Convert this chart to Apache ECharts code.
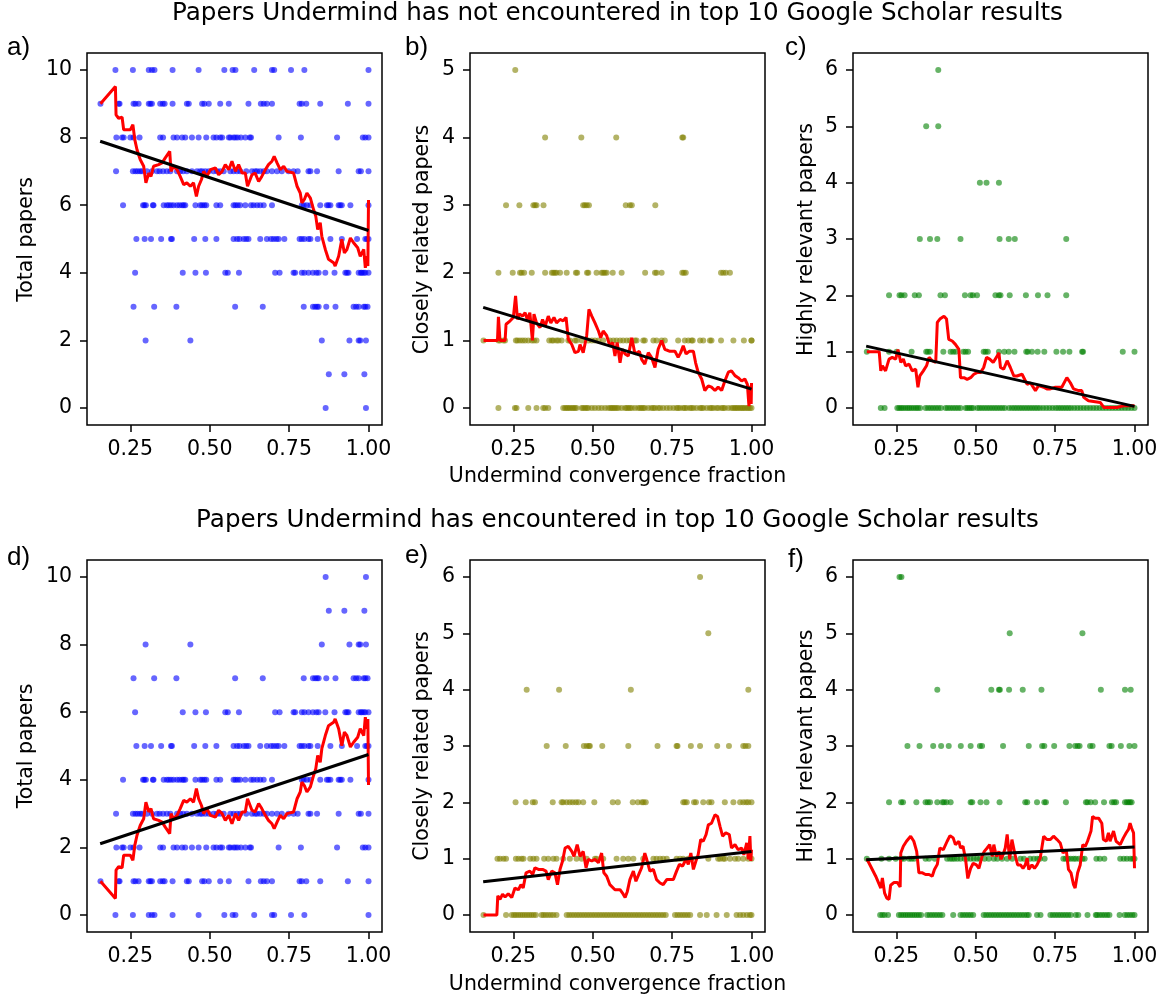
<!DOCTYPE html>
<html>
<head>
<meta charset="utf-8">
<script src="https://cdn.jsdelivr.net/npm/echarts@6/dist/echarts.min.js"></script>
<style>
html,body{margin:0;padding:0;background:#fff;}
#chart{width:1164px;height:1000px;}
</style>
</head>
<body>
<div id="chart"></div>
<script>
// ---------------- data ----------------
const xTickValues = [0.25, 0.5, 0.75, 1.0];
const yTicksTotal = [0, 2, 4, 6, 8, 10];
const yTicksFive = [0, 1, 2, 3, 4, 5];
const yTicksSix = [0, 1, 2, 3, 4, 5, 6];

const titleTop = "Papers Undermind has not encountered in top 10 Google Scholar results";
const titleBottom = "Papers Undermind has encountered in top 10 Google Scholar results";
const xAxisTitle = "Undermind convergence fraction";
const yTitleTotal = "Total papers";
const yTitleClose = "Closely related papers";
const yTitleHigh = "Highly relevant papers";
const panelTags = ["a)", "b)", "c)", "d)", "e)", "f)"];

// Panel a: x positions of points, one list per y value (index = number of papers)
const aRows = [
  [0.865, 0.992],
  [0.875, 0.924, 0.987],
  [0.298, 0.439, 0.853, 0.940, 0.969, 0.974, 0.992],
  [0.260, 0.325, 0.395, 0.580, 0.667, 0.796, 0.825, 0.832, 0.838, 0.843, 0.867, 0.896, 0.953, 0.961, 0.969, 0.985, 0.990, 0.997],
  [0.265, 0.415, 0.455, 0.488, 0.549, 0.557, 0.592, 0.706, 0.720, 0.764, 0.769, 0.790, 0.798, 0.811, 0.825, 0.836, 0.843, 0.864, 0.893, 0.927, 0.932, 0.937, 0.969, 0.976, 0.979, 0.985, 0.990, 1.0],
  [0.269, 0.295, 0.315, 0.347, 0.378, 0.381, 0.451, 0.486, 0.521, 0.575, 0.586, 0.594, 0.607, 0.615, 0.622, 0.659, 0.680, 0.693, 0.701, 0.710, 0.717, 0.735, 0.783, 0.790, 0.798, 0.811, 0.817, 0.840, 0.880, 0.916, 0.964, 0.990, 0.995, 1.0],
  [0.227, 0.290, 0.294, 0.299, 0.321, 0.323, 0.355, 0.365, 0.371, 0.378, 0.386, 0.397, 0.405, 0.413, 0.418, 0.423, 0.455, 0.470, 0.476, 0.483, 0.489, 0.521, 0.533, 0.575, 0.581, 0.588, 0.596, 0.612, 0.630, 0.638, 0.649, 0.659, 0.670, 0.696, 0.790, 0.796, 0.806, 0.817, 0.848, 0.869, 0.874, 0.880, 0.906, 0.911, 0.916, 0.943, 1.0],
  [0.205, 0.258, 0.266, 0.273, 0.281, 0.287, 0.302, 0.318, 0.334, 0.342, 0.353, 0.365, 0.376, 0.397, 0.407, 0.416, 0.428, 0.444, 0.460, 0.470, 0.476, 0.486, 0.497, 0.512, 0.523, 0.533, 0.544, 0.565, 0.575, 0.586, 0.596, 0.615, 0.633, 0.643, 0.649, 0.659, 0.670, 0.680, 0.696, 0.712, 0.727, 0.748, 0.764, 0.777, 0.811, 0.817, 0.838, 0.906, 0.969, 0.976, 1.0],
  [0.206, 0.224, 0.229, 0.250, 0.260, 0.279, 0.344, 0.353, 0.386, 0.397, 0.413, 0.423, 0.444, 0.465, 0.489, 0.512, 0.521, 0.533, 0.539, 0.560, 0.565, 0.575, 0.581, 0.588, 0.598, 0.612, 0.626, 0.630, 0.717, 0.787, 0.901, 0.982, 0.990, 1.0],
  [0.156, 0.213, 0.216, 0.260, 0.266, 0.276, 0.308, 0.313, 0.318, 0.344, 0.352, 0.358, 0.383, 0.428, 0.434, 0.476, 0.483, 0.497, 0.533, 0.560, 0.622, 0.661, 0.670, 0.680, 0.696, 0.783, 0.790, 0.804, 0.848, 0.935, 1.0],
  [0.203, 0.258, 0.308, 0.318, 0.326, 0.383, 0.465, 0.546, 0.572, 0.581, 0.640, 0.696, 0.703, 0.756, 0.798, 1.0]
];
const aTrend = [[0.156,9.0],[0.203,9.51],[0.205,8.67],[0.213,8.57],[0.224,8.6],[0.229,8.23],[0.250,8.23],[0.258,8.38],[0.264,7.94],[0.271,7.64],[0.281,7.35],[0.292,7.15],[0.299,6.66],[0.308,6.95],[0.315,6.85],[0.323,7.15],[0.339,7.2],[0.350,7.25],[0.360,7.4],[0.374,7.59],[0.378,7.0],[0.386,7.15],[0.397,7.05],[0.407,6.85],[0.418,6.61],[0.428,6.66],[0.439,6.56],[0.449,6.66],[0.458,6.26],[0.465,6.56],[0.474,6.76],[0.481,7.0],[0.491,6.85],[0.502,7.05],[0.518,7.1],[0.528,6.9],[0.539,7.0],[0.549,7.2],[0.560,7.05],[0.570,7.3],[0.581,7.0],[0.591,7.2],[0.602,6.95],[0.612,6.95],[0.619,6.56],[0.633,6.9],[0.643,6.95],[0.654,6.7],[0.664,6.85],[0.675,7.05],[0.685,7.2],[0.696,7.3],[0.703,7.44],[0.712,7.25],[0.722,7.05],[0.733,7.15],[0.743,7.0],[0.764,6.95],[0.775,6.56],[0.785,6.36],[0.790,6.07],[0.798,6.17],[0.806,6.36],[0.817,6.21],[0.827,5.87],[0.834,5.67],[0.840,5.28],[0.848,5.48],[0.853,5.08],[0.864,4.69],[0.874,4.4],[0.890,4.3],[0.895,4.2],[0.906,4.49],[0.916,4.99],[0.924,4.59],[0.932,4.69],[0.943,5.03],[0.953,4.89],[0.966,4.74],[0.974,4.49],[0.985,4.69],[0.990,4.15],[0.995,4.49],[0.998,4.2],[1.0,6.15]];
const aFit = [[0.155, 7.89], [1.0, 5.25]];

// Panel b
const bRows = [
  [0.203, 0.255, 0.260, 0.297, 0.323, 0.344, 0.350, 0.360, 0.407, 0.413, 0.418, 0.423, 0.428, 0.434, 0.439, 0.444, 0.449, 0.465, 0.470, 0.476, 0.481, 0.486, 0.497, 0.507, 0.518, 0.528, 0.539, 0.549, 0.556, 0.560, 0.565, 0.570, 0.575, 0.581, 0.591, 0.602, 0.607, 0.612, 0.617, 0.623, 0.633, 0.643, 0.649, 0.654, 0.659, 0.664, 0.675, 0.685, 0.691, 0.696, 0.706, 0.712, 0.722, 0.733, 0.743, 0.754, 0.764, 0.769, 0.775, 0.785, 0.790, 0.796, 0.806, 0.811, 0.817, 0.827, 0.838, 0.843, 0.848, 0.859, 0.869, 0.874, 0.880, 0.890, 0.896, 0.906, 0.911, 0.916, 0.927, 0.937, 0.943, 0.948, 0.953, 0.958, 0.964, 0.969, 0.974, 0.979, 0.985, 0.990, 0.995, 1.0],
  [0.156, 0.203, 0.208, 0.219, 0.224, 0.258, 0.263, 0.271, 0.279, 0.287, 0.297, 0.308, 0.315, 0.323, 0.363, 0.371, 0.376, 0.386, 0.392, 0.402, 0.423, 0.428, 0.444, 0.449, 0.465, 0.486, 0.497, 0.507, 0.518, 0.533, 0.554, 0.565, 0.575, 0.586, 0.596, 0.607, 0.617, 0.633, 0.638, 0.659, 0.664, 0.691, 0.701, 0.717, 0.727, 0.769, 0.790, 0.801, 0.811, 0.815, 0.838, 0.848, 0.869, 0.874, 0.904, 0.943, 0.976, 1.0, 1.0],
  [0.203, 0.248, 0.271, 0.276, 0.284, 0.308, 0.350, 0.371, 0.376, 0.381, 0.386, 0.397, 0.418, 0.447, 0.451, 0.482, 0.486, 0.512, 0.528, 0.533, 0.538, 0.544, 0.563, 0.591, 0.665, 0.696, 0.701, 0.717, 0.782, 0.787, 0.793, 0.904, 0.911, 0.919, 0.932],
  [0.227, 0.269, 0.313, 0.318, 0.323, 0.345, 0.470, 0.475, 0.481, 0.488, 0.604, 0.617, 0.623, 0.697],
  [0.350, 0.464, 0.574, 0.782, 0.785],
  [0.256]
];
const bTrend = [[0.156,1.0],[0.200,1.0],[0.203,1.35],[0.208,1.0],[0.224,1.0],[0.227,1.24],[0.240,1.29],[0.250,1.34],[0.257,1.66],[0.263,1.31],[0.269,1.39],[0.279,1.36],[0.287,1.41],[0.294,1.31],[0.302,1.41],[0.310,1.0],[0.315,1.39],[0.323,1.26],[0.334,1.19],[0.342,1.31],[0.350,1.21],[0.360,1.36],[0.368,1.26],[0.378,1.34],[0.386,1.26],[0.397,1.31],[0.407,1.29],[0.416,1.34],[0.423,1.02],[0.434,0.94],[0.444,0.82],[0.455,0.84],[0.460,0.94],[0.470,0.82],[0.481,1.07],[0.488,1.46],[0.497,1.36],[0.507,1.26],[0.518,1.14],[0.525,1.04],[0.533,1.14],[0.544,1.07],[0.554,0.92],[0.563,0.97],[0.570,0.77],[0.577,0.97],[0.586,0.67],[0.593,0.87],[0.602,0.80],[0.612,0.77],[0.623,1.04],[0.633,0.80],[0.647,0.84],[0.654,0.72],[0.664,0.65],[0.675,0.82],[0.685,0.75],[0.696,0.60],[0.706,0.87],[0.717,1.0],[0.727,0.87],[0.743,0.84],[0.759,0.84],[0.769,0.75],[0.777,0.82],[0.785,0.92],[0.794,0.80],[0.804,0.84],[0.817,0.84],[0.824,0.67],[0.832,0.53],[0.843,0.43],[0.853,0.26],[0.864,0.33],[0.874,0.31],[0.885,0.26],[0.895,0.31],[0.906,0.26],[0.916,0.40],[0.927,0.53],[0.937,0.55],[0.948,0.48],[0.958,0.45],[0.969,0.40],[0.979,0.43],[0.987,0.35],[0.992,0.03],[0.997,0.33],[0.999,0.06],[1.0,0.37]];
const bFit = [[0.155, 1.49], [1.0, 0.28]];

// Panel c
const cRows = [
  [0.201, 0.213, 0.253, 0.259, 0.265, 0.271, 0.278, 0.285, 0.291, 0.298, 0.305, 0.312, 0.318, 0.325, 0.342, 0.350, 0.358, 0.366, 0.374, 0.382, 0.390, 0.405, 0.412, 0.420, 0.428, 0.436, 0.444, 0.452, 0.468, 0.474, 0.480, 0.486, 0.492, 0.505, 0.512, 0.520, 0.528, 0.536, 0.544, 0.552, 0.560, 0.568, 0.576, 0.584, 0.592, 0.605, 0.614, 0.622, 0.630, 0.638, 0.646, 0.654, 0.662, 0.670, 0.678, 0.686, 0.694, 0.702, 0.712, 0.722, 0.732, 0.742, 0.752, 0.760, 0.768, 0.776, 0.784, 0.792, 0.800, 0.810, 0.820, 0.830, 0.840, 0.850, 0.860, 0.870, 0.880, 0.890, 0.900, 0.910, 0.920, 0.930, 0.940, 0.950, 0.960, 0.970, 0.980, 0.990, 1.0],
  [0.157, 0.227, 0.251, 0.298, 0.344, 0.349, 0.356, 0.398, 0.421, 0.429, 0.437, 0.461, 0.468, 0.476, 0.525, 0.531, 0.538, 0.573, 0.590, 0.604, 0.622, 0.659, 0.664, 0.677, 0.695, 0.716, 0.754, 0.775, 0.795, 0.835, 0.838, 0.963, 1.0],
  [0.227, 0.260, 0.266, 0.276, 0.308, 0.321, 0.389, 0.403, 0.466, 0.484, 0.491, 0.504, 0.562, 0.573, 0.578, 0.607, 0.658, 0.696, 0.726, 0.785],
  [0.324, 0.356, 0.379, 0.452, 0.575, 0.604, 0.623, 0.785],
  [0.513, 0.534, 0.573],
  [0.344, 0.382],
  [0.382]
];
const cTrend = [[0.157,1.0],[0.196,1.0],[0.201,0.66],[0.206,0.75],[0.216,0.66],[0.227,0.87],[0.237,0.9],[0.248,0.87],[0.255,1.04],[0.264,0.81],[0.272,0.87],[0.279,0.75],[0.290,0.78],[0.300,0.66],[0.311,0.69],[0.318,0.37],[0.324,0.57],[0.335,0.66],[0.345,0.75],[0.353,0.9],[0.363,0.84],[0.374,0.81],[0.379,1.52],[0.387,1.58],[0.400,1.63],[0.408,1.58],[0.415,1.22],[0.426,1.19],[0.436,1.13],[0.447,1.04],[0.452,0.54],[0.463,0.54],[0.473,0.51],[0.484,0.54],[0.494,0.60],[0.504,0.63],[0.515,0.63],[0.525,0.72],[0.534,0.9],[0.544,0.87],[0.555,0.81],[0.565,0.90],[0.573,0.98],[0.578,0.72],[0.588,0.69],[0.599,0.84],[0.609,0.72],[0.620,0.57],[0.630,0.57],[0.646,0.60],[0.662,0.42],[0.672,0.45],[0.688,0.31],[0.698,0.40],[0.714,0.37],[0.724,0.34],[0.735,0.34],[0.751,0.37],[0.771,0.37],[0.787,0.54],[0.798,0.45],[0.808,0.34],[0.824,0.31],[0.834,0.31],[0.840,0.19],[0.855,0.13],[0.892,0.10],[0.904,0.01],[0.944,0.01],[0.965,0.04],[1.0,0.04]];
const cFit = [[0.155, 1.10], [1.0, 0.03]];

// Panel d
const dRows = [
  [0.203, 0.258, 0.308, 0.318, 0.326, 0.383, 0.465, 0.546, 0.572, 0.581, 0.640, 0.696, 0.703, 0.756, 0.798, 1.0],
  [0.156, 0.213, 0.216, 0.260, 0.266, 0.276, 0.308, 0.313, 0.318, 0.344, 0.352, 0.358, 0.383, 0.428, 0.434, 0.476, 0.483, 0.497, 0.533, 0.560, 0.622, 0.661, 0.670, 0.680, 0.696, 0.783, 0.790, 0.804, 0.848, 0.935, 1.0],
  [0.206, 0.224, 0.229, 0.250, 0.260, 0.279, 0.344, 0.353, 0.386, 0.397, 0.413, 0.423, 0.444, 0.465, 0.489, 0.512, 0.521, 0.533, 0.539, 0.560, 0.565, 0.575, 0.581, 0.588, 0.598, 0.612, 0.626, 0.630, 0.717, 0.787, 0.901, 0.982, 0.990, 1.0],
  [0.205, 0.258, 0.266, 0.273, 0.281, 0.287, 0.302, 0.318, 0.334, 0.342, 0.353, 0.365, 0.376, 0.397, 0.407, 0.416, 0.428, 0.444, 0.460, 0.470, 0.476, 0.486, 0.497, 0.512, 0.523, 0.533, 0.544, 0.565, 0.575, 0.586, 0.596, 0.615, 0.633, 0.643, 0.649, 0.659, 0.670, 0.680, 0.696, 0.712, 0.727, 0.748, 0.764, 0.777, 0.811, 0.817, 0.838, 0.906, 0.969, 0.976, 1.0],
  [0.227, 0.290, 0.294, 0.299, 0.321, 0.323, 0.355, 0.365, 0.371, 0.378, 0.386, 0.397, 0.405, 0.413, 0.418, 0.423, 0.455, 0.470, 0.476, 0.483, 0.489, 0.521, 0.533, 0.575, 0.581, 0.588, 0.596, 0.612, 0.630, 0.638, 0.649, 0.659, 0.670, 0.696, 0.790, 0.796, 0.806, 0.817, 0.848, 0.869, 0.874, 0.880, 0.906, 0.911, 0.916, 0.943, 1.0],
  [0.269, 0.295, 0.315, 0.347, 0.378, 0.381, 0.451, 0.486, 0.521, 0.575, 0.586, 0.594, 0.607, 0.615, 0.622, 0.659, 0.680, 0.693, 0.701, 0.710, 0.717, 0.735, 0.783, 0.790, 0.798, 0.811, 0.817, 0.840, 0.880, 0.916, 0.964, 0.990, 0.995, 1.0],
  [0.265, 0.415, 0.455, 0.488, 0.549, 0.557, 0.592, 0.706, 0.720, 0.764, 0.769, 0.790, 0.798, 0.811, 0.825, 0.836, 0.843, 0.864, 0.893, 0.927, 0.932, 0.937, 0.969, 0.976, 0.979, 0.985, 0.990, 1.0],
  [0.260, 0.325, 0.395, 0.580, 0.667, 0.796, 0.825, 0.832, 0.838, 0.843, 0.867, 0.896, 0.953, 0.961, 0.969, 0.985, 0.990, 0.997],
  [0.298, 0.439, 0.853, 0.940, 0.969, 0.974, 0.992],
  [0.875, 0.924, 0.987],
  [0.865, 0.992]
];
const dTrend = [[0.156,1.0],[0.203,0.49],[0.205,1.33],[0.213,1.43],[0.224,1.4],[0.229,1.77],[0.250,1.77],[0.258,1.62],[0.264,2.06],[0.271,2.36],[0.281,2.65],[0.292,2.85],[0.299,3.34],[0.308,3.05],[0.315,3.15],[0.323,2.85],[0.339,2.8],[0.350,2.75],[0.360,2.6],[0.374,2.41],[0.378,3.0],[0.386,2.85],[0.397,2.95],[0.407,3.15],[0.418,3.39],[0.428,3.34],[0.439,3.44],[0.449,3.34],[0.458,3.74],[0.465,3.44],[0.474,3.24],[0.481,3.0],[0.491,3.15],[0.502,2.95],[0.518,2.9],[0.528,3.1],[0.539,3.0],[0.549,2.8],[0.560,2.95],[0.570,2.7],[0.581,3.0],[0.591,2.8],[0.602,3.05],[0.612,3.05],[0.619,3.44],[0.633,3.1],[0.643,3.05],[0.654,3.3],[0.664,3.15],[0.675,2.95],[0.685,2.8],[0.696,2.7],[0.703,2.56],[0.712,2.75],[0.722,2.95],[0.733,2.85],[0.743,3.0],[0.764,3.05],[0.775,3.44],[0.785,3.64],[0.790,3.93],[0.798,3.83],[0.806,3.64],[0.817,3.79],[0.827,4.13],[0.834,4.33],[0.840,4.72],[0.848,4.52],[0.853,4.92],[0.864,5.31],[0.874,5.6],[0.890,5.7],[0.895,5.8],[0.906,5.51],[0.916,5.01],[0.924,5.41],[0.932,5.31],[0.943,4.97],[0.953,5.11],[0.966,5.26],[0.974,5.51],[0.985,5.31],[0.990,5.85],[0.995,5.51],[0.998,5.8],[1.0,3.85]];
const dFit = [[0.155, 2.11], [1.0, 4.75]];

// Panel e
const eRows = [
  [0.156, 0.227, 0.245, 0.252, 0.258, 0.265, 0.272, 0.279, 0.286, 0.293, 0.300, 0.307, 0.314, 0.321, 0.339, 0.345, 0.352, 0.360, 0.368, 0.376, 0.386, 0.418, 0.426, 0.434, 0.442, 0.450, 0.458, 0.466, 0.474, 0.482, 0.490, 0.498, 0.506, 0.514, 0.522, 0.530, 0.538, 0.546, 0.554, 0.562, 0.570, 0.578, 0.586, 0.594, 0.602, 0.610, 0.618, 0.626, 0.634, 0.642, 0.650, 0.658, 0.666, 0.674, 0.682, 0.690, 0.698, 0.706, 0.714, 0.722, 0.730, 0.759, 0.767, 0.775, 0.783, 0.791, 0.799, 0.807, 0.838, 0.859, 0.890, 0.922, 0.953, 0.964, 0.974, 0.985, 0.995, 1.0],
  [0.200, 0.208, 0.219, 0.227, 0.258, 0.266, 0.276, 0.282, 0.303, 0.313, 0.323, 0.347, 0.360, 0.376, 0.386, 0.407, 0.428, 0.449, 0.465, 0.481, 0.507, 0.512, 0.533, 0.575, 0.596, 0.612, 0.628, 0.659, 0.691, 0.701, 0.712, 0.722, 0.733, 0.764, 0.775, 0.785, 0.801, 0.811, 0.864, 0.895, 0.901, 0.911, 0.916, 0.932, 0.948, 0.958, 0.974, 0.990, 1.0],
  [0.257, 0.289, 0.311, 0.318, 0.374, 0.402, 0.407, 0.418, 0.428, 0.437, 0.447, 0.455, 0.470, 0.505, 0.563, 0.579, 0.626, 0.642, 0.655, 0.660, 0.667, 0.785, 0.790, 0.796, 0.819, 0.825, 0.848, 0.866, 0.874, 0.916, 0.943, 0.964, 0.974, 0.983, 0.990, 1.0],
  [0.355, 0.415, 0.472, 0.481, 0.488, 0.491, 0.530, 0.612, 0.704, 0.764, 0.767, 0.809, 0.838, 0.892, 0.929, 0.974, 0.981, 0.990],
  [0.292, 0.394, 0.620, 0.990],
  [0.864],
  [0.838]
];
const eTrend = [[0.156,0],[0.198,0],[0.201,0.34],[0.208,0.28],[0.216,0.37],[0.224,0.32],[0.234,0.38],[0.245,0.31],[0.255,0.48],[0.266,0.45],[0.274,0.54],[0.281,0.48],[0.290,0.75],[0.302,0.78],[0.311,0.72],[0.318,0.84],[0.329,0.81],[0.342,0.81],[0.353,0.78],[0.360,0.63],[0.371,0.78],[0.381,0.75],[0.389,0.54],[0.397,0.81],[0.405,0.96],[0.413,1.19],[0.423,1.22],[0.434,1.13],[0.441,1.04],[0.451,1.25],[0.460,1.04],[0.470,1.13],[0.479,0.84],[0.486,0.99],[0.497,0.96],[0.507,0.99],[0.518,0.93],[0.528,1.10],[0.535,0.75],[0.544,0.69],[0.554,0.54],[0.570,0.45],[0.586,0.45],[0.596,0.37],[0.602,0.31],[0.609,0.42],[0.617,0.63],[0.628,0.78],[0.636,0.60],[0.647,0.75],[0.654,0.84],[0.664,1.10],[0.670,0.99],[0.680,0.78],[0.691,0.81],[0.701,0.63],[0.712,0.57],[0.722,0.54],[0.733,0.63],[0.754,0.63],[0.764,0.78],[0.773,0.90],[0.783,0.87],[0.794,0.99],[0.801,0.90],[0.809,1.10],[0.817,0.81],[0.825,0.96],[0.832,1.07],[0.840,1.34],[0.848,1.31],[0.857,1.43],[0.864,1.60],[0.874,1.63],[0.885,1.78],[0.893,1.75],[0.901,1.57],[0.909,1.40],[0.919,1.46],[0.930,1.43],[0.937,1.19],[0.948,1.25],[0.958,1.16],[0.969,1.19],[0.976,1.07],[0.985,1.28],[0.990,0.99],[0.995,1.40],[0.998,0.96],[1.0,1.16]];
const eFit = [[0.155, 0.59], [1.0, 1.13]];

// Panel f
const fRows = [
  [0.199, 0.206, 0.213, 0.224, 0.258, 0.265, 0.272, 0.279, 0.286, 0.293, 0.300, 0.307, 0.314, 0.321, 0.328, 0.347, 0.355, 0.363, 0.371, 0.379, 0.387, 0.395, 0.429, 0.452, 0.460, 0.468, 0.476, 0.484, 0.492, 0.525, 0.533, 0.541, 0.549, 0.557, 0.565, 0.573, 0.581, 0.589, 0.597, 0.605, 0.613, 0.621, 0.629, 0.637, 0.645, 0.653, 0.661, 0.667, 0.693, 0.704, 0.735, 0.743, 0.751, 0.759, 0.767, 0.775, 0.783, 0.791, 0.799, 0.815, 0.823, 0.852, 0.878, 0.882, 0.890, 0.898, 0.906, 0.914, 0.921, 0.953, 0.969, 0.977, 0.985, 0.993, 1.0],
  [0.157, 0.203, 0.227, 0.248, 0.266, 0.274, 0.290, 0.298, 0.306, 0.342, 0.353, 0.371, 0.410, 0.419, 0.426, 0.433, 0.442, 0.452, 0.465, 0.473, 0.484, 0.494, 0.504, 0.513, 0.528, 0.541, 0.557, 0.568, 0.583, 0.599, 0.615, 0.641, 0.652, 0.671, 0.683, 0.694, 0.702, 0.717, 0.776, 0.783, 0.791, 0.799, 0.808, 0.815, 0.825, 0.836, 0.843, 0.880, 0.891, 0.905, 0.955, 0.966, 0.976, 0.987, 0.995, 1.0],
  [0.227, 0.265, 0.271, 0.313, 0.342, 0.349, 0.356, 0.379, 0.395, 0.400, 0.408, 0.421, 0.484, 0.489, 0.515, 0.534, 0.575, 0.656, 0.662, 0.693, 0.716, 0.721, 0.784, 0.847, 0.852, 0.862, 0.876, 0.904, 0.929, 0.936, 0.942, 0.970, 0.976, 0.981, 0.986, 0.991],
  [0.285, 0.323, 0.366, 0.391, 0.415, 0.453, 0.484, 0.513, 0.520, 0.586, 0.667, 0.709, 0.716, 0.747, 0.795, 0.813, 0.821, 0.827, 0.860, 0.868, 0.921, 0.928, 0.957, 0.984, 1.0],
  [0.379, 0.549, 0.573, 0.576, 0.605, 0.648, 0.707, 0.894, 0.970, 0.988],
  [0.607, 0.836],
  [0.260, 0.266]
];
const fTrend = [[0.157,1.0],[0.185,0.69],[0.201,0.48],[0.206,0.66],[0.213,0.39],[0.220,0.30],[0.227,0.28],[0.232,0.53],[0.243,0.58],[0.253,0.58],[0.262,0.50],[0.264,1.10],[0.272,1.22],[0.282,1.31],[0.295,1.40],[0.305,1.31],[0.314,1.13],[0.321,0.75],[0.332,0.75],[0.342,0.72],[0.353,0.72],[0.363,0.69],[0.370,0.81],[0.379,0.90],[0.387,1.19],[0.398,1.16],[0.410,1.31],[0.419,1.41],[0.429,1.37],[0.436,1.25],[0.447,1.31],[0.452,1.19],[0.460,1.22],[0.468,0.99],[0.475,0.65],[0.484,0.83],[0.492,0.92],[0.502,0.89],[0.510,0.83],[0.520,1.04],[0.527,1.13],[0.536,1.19],[0.544,1.25],[0.552,1.04],[0.557,1.25],[0.565,1.04],[0.573,1.13],[0.580,0.99],[0.586,1.07],[0.593,1.19],[0.599,1.43],[0.607,0.99],[0.614,1.34],[0.625,1.04],[0.632,0.89],[0.641,0.89],[0.649,0.83],[0.656,0.89],[0.662,1.01],[0.667,0.81],[0.677,0.89],[0.685,0.83],[0.693,0.89],[0.703,1.01],[0.714,1.40],[0.724,1.34],[0.735,1.34],[0.745,1.40],[0.756,1.34],[0.766,1.28],[0.775,1.10],[0.785,1.16],[0.792,0.81],[0.800,0.75],[0.808,0.54],[0.813,0.48],[0.821,0.75],[0.829,0.89],[0.837,1.25],[0.845,1.22],[0.852,1.31],[0.863,1.49],[0.868,1.75],[0.876,1.72],[0.887,1.72],[0.897,1.63],[0.902,1.34],[0.911,1.31],[0.918,1.46],[0.923,1.31],[0.934,1.49],[0.942,1.31],[0.955,1.25],[0.965,1.37],[0.974,1.46],[0.981,1.52],[0.986,1.63],[0.991,1.54],[0.997,1.46],[1.0,0.83]];
const fFit = [[0.155, 0.98], [1.0, 1.21]];

// ---------------- layout / styling ----------------
const FONT = "DejaVu Sans";
const GRID_W = 295, GRID_H = 372;
const lefts = [87, 470, 853];
const tops = [53, 560];
const xMin = 0.1135, xMax = 1.0425;

const panels = [
  {rows: aRows, trend: aTrend, fit: aFit, color: "rgba(0,0,255,0.75)", yMin: -0.5, yMax: 10.5, yTicks: yTicksTotal},
  {rows: bRows, trend: bTrend, fit: bFit, color: "rgba(128,128,0,0.75)", yMin: -0.25, yMax: 5.25, yTicks: yTicksFive},
  {rows: cRows, trend: cTrend, fit: cFit, color: "rgba(0,128,0,0.75)", yMin: -0.3, yMax: 6.3, yTicks: yTicksSix},
  {rows: dRows, trend: dTrend, fit: dFit, color: "rgba(0,0,255,0.75)", yMin: -0.5, yMax: 10.5, yTicks: yTicksTotal},
  {rows: eRows, trend: eTrend, fit: eFit, color: "rgba(128,128,0,0.75)", yMin: -0.3, yMax: 6.3, yTicks: yTicksSix},
  {rows: fRows, trend: fTrend, fit: fFit, color: "rgba(0,128,0,0.75)", yMin: -0.3, yMax: 6.3, yTicks: yTicksSix}
];

function rowsToPoints(rows) {
  const pts = [];
  rows.forEach((xs, y) => xs.forEach(x => pts.push([x, y])));
  return pts;
}

const grids = [], xAxes = [], yAxes = [], series = [];
panels.forEach((p, i) => {
  const col = i % 3, row = Math.floor(i / 3);
  grids.push({left: lefts[col], top: tops[row], width: GRID_W, height: GRID_H,
    show: true, borderColor: "#000", borderWidth: 1.5, backgroundColor: "transparent", containLabel: false});
  xAxes.push({type: "value", gridIndex: i, min: xMin, max: xMax,
    axisLine: {show: false, onZero: false},
    axisTick: {show: true, inside: false, length: 7, lineStyle: {color: "#000", width: 1.5}, customValues: xTickValues},
    axisLabel: {show: true, customValues: xTickValues, margin: 14, color: "#000", fontSize: 20.5, fontFamily: FONT,
      formatter: v => v.toFixed(2)},
    splitLine: {show: false}});
  yAxes.push({type: "value", gridIndex: i, min: p.yMin, max: p.yMax,
    axisLine: {show: false, onZero: false},
    axisTick: {show: true, inside: false, length: 7, lineStyle: {color: "#000", width: 1.5}, customValues: p.yTicks},
    axisLabel: {show: true, customValues: p.yTicks, margin: 15, color: "#000", fontSize: 20.5, fontFamily: FONT,
      formatter: v => String(Math.round(v))},
    splitLine: {show: false}});
  series.push({type: "scatter", xAxisIndex: i, yAxisIndex: i, data: rowsToPoints(p.rows),
    symbol: "circle", symbolSize: 6, itemStyle: {color: p.color}, z: 2, silent: true});
  series.push({type: "line", xAxisIndex: i, yAxisIndex: i, data: p.trend, showSymbol: false,
    lineStyle: {color: "#ff0000", width: 3}, z: 3, silent: true});
  series.push({type: "line", xAxisIndex: i, yAxisIndex: i, data: p.fit, showSymbol: false,
    lineStyle: {color: "#000", width: 3}, z: 4, silent: true});
});

function txt(text, x, y, size, opts) {
  return Object.assign({type: "text", x: x, y: y, silent: true,
    style: {text: text, fill: "#000", fontSize: size, fontFamily: (opts && opts.family) || FONT,
      align: (opts && opts.align) || "center", verticalAlign: "middle"}}, (opts && opts.rotation !== undefined) ? {rotation: opts.rotation} : {});
}

const graphics = [
  txt(titleTop, 617.5, 14, 24.6),
  txt(titleBottom, 617.5, 521, 24.6),
  txt(xAxisTitle, 617.5, 477, 20.5),
  txt(xAxisTitle, 617.5, 985, 20.5),
  txt(yTitleTotal, 27, 239.5, 20.5, {rotation: Math.PI / 2}),
  txt(yTitleClose, 423, 239.5, 20.5, {rotation: Math.PI / 2}),
  txt(yTitleHigh, 807, 239.5, 20.5, {rotation: Math.PI / 2}),
  txt(yTitleTotal, 27, 746, 20.5, {rotation: Math.PI / 2}),
  txt(yTitleClose, 423, 746, 20.5, {rotation: Math.PI / 2}),
  txt(yTitleHigh, 807, 746, 20.5, {rotation: Math.PI / 2}),
  txt(panelTags[0], 7, 48, 26, {align: "left", family: "Liberation Sans"}),
  txt(panelTags[1], 405, 48, 26, {align: "left", family: "Liberation Sans"}),
  txt(panelTags[2], 785, 48, 26, {align: "left", family: "Liberation Sans"}),
  txt(panelTags[3], 7, 558, 26, {align: "left", family: "Liberation Sans"}),
  txt(panelTags[4], 405, 556, 26, {align: "left", family: "Liberation Sans"}),
  txt(panelTags[5], 788, 560, 26, {align: "left", family: "Liberation Sans"})
];

const chart = echarts.init(document.getElementById("chart"), null, {renderer: "canvas"});
chart.setOption({
  animation: false,
  backgroundColor: "#fff",
  textStyle: {fontFamily: FONT},
  grid: grids,
  xAxis: xAxes,
  yAxis: yAxes,
  series: series,
  graphic: graphics
});
</script>
</body>
</html>
